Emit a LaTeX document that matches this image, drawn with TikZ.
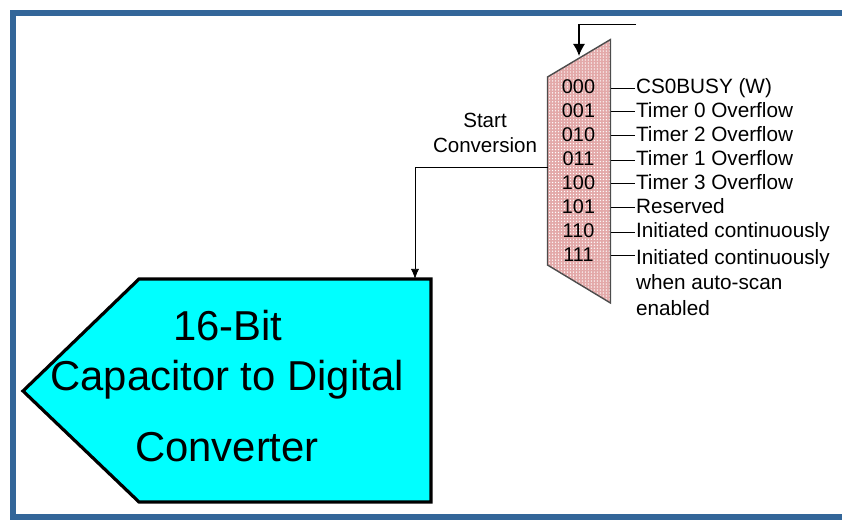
\documentclass[tikz,border=0pt]{standalone}
\usepackage{fontspec}
\setmainfont{Liberation Sans}
\usetikzlibrary{patterns.meta,arrows.meta}
\definecolor{framebl}{HTML}{336699}
\definecolor{muxpink}{HTML}{E3A9A9}
\definecolor{adccyan}{HTML}{00FFFF}
\begin{document}
\begin{tikzpicture}[x=.02cm,y=-.02cm,
    every node/.style={inner sep=.4pt},
    code/.style={font=\fontsize{11.3}{14}\selectfont},
    srclabel/.style={anchor=base west,font=\fontsize{11.8}{14.5}\selectfont,align=left},
    biglabel/.style={font=\fontsize{23.8}{28}\selectfont}]
          \useasboundingbox (0,0) rectangle (842,520);
          % outer frame, open on the right
          \draw [framebl,line width=6*.02cm] (842,13) -- (13,13) -- (13,517) -- (842,517);
          % converter block
          \coordinate (adcin) at (415,279);
          \draw [line width=3.2*.02cm,line join=miter,fill=adccyan] (139,279) -- (431,279) -- (431,502) -- (139,502) -- (23,391) -- cycle;
          \node [biglabel] (adc1) at (228,326) {16-Bit};
          \node [biglabel] (adc2) at (227,380) {Capacitor to Digital};
          \node [biglabel] (adc3) at (227,447) {Converter};
          % mux
          \draw [thick,black!70,preaction={fill=muxpink},pattern={Dots[distance=1.7pt,radius=.4pt]},pattern color=white] (547.5,77) -- (610.5,39.5) -- (610.5,303) -- (547.5,265) -- cycle;
          \coordinate (muxsel) at (579,56);
          \coordinate (muxout) at (547.5,167);
          \coordinate (selin) at (636,24.5);
          \node [code] (c0) at (578.5,87) {000};
          \node [code] (c1) at (578.5,111) {001};
          \node [code] (c2) at (578.5,135) {010};
          \node [code] (c3) at (578.5,159) {011};
          \node [code] (c4) at (578.5,183) {100};
          \node [code] (c5) at (578.5,207) {101};
          \node [code] (c6) at (578.5,231) {110};
          \node [code] (c7) at (578.5,255) {111};
          \coordinate (m0) at (610.5,88);
          \coordinate (m1) at (610.5,111);
          \coordinate (m2) at (610.5,135);
          \coordinate (m3) at (610.5,160);
          \coordinate (m4) at (610.5,183);
          \coordinate (m5) at (610.5,207);
          \coordinate (m6) at (610.5,232);
          \coordinate (m7) at (610.5,255);
          \node [srclabel] (l0) at (635,94) {CS0BUSY (W)};
          \node [srclabel] (l1) at (635,118) {Timer 0 Overflow};
          \node [srclabel] (l2) at (635,142) {Timer 2 Overflow};
          \node [srclabel] (l3) at (635,166) {Timer 1 Overflow};
          \node [srclabel] (l4) at (635,190) {Timer 3 Overflow};
          \node [srclabel] (l5) at (635,214) {Reserved};
          \node [srclabel] (l6) at (635,238) {Initiated continuously};
          \node [srclabel,anchor=north west] (l7) at (635,248) {Initiated continuously\\when auto-scan\\enabled};
          \draw (m0) -- (m0 -| l0.west);
          \draw (m1) -- (m1 -| l1.west);
          \draw (m2) -- (m2 -| l2.west);
          \draw (m3) -- (m3 -| l3.west);
          \draw (m4) -- (m4 -| l4.west);
          \draw (m5) -- (m5 -| l5.west);
          \draw (m6) -- (m6 -| l6.west);
          \draw (m7) -- (m7 -| l7.west);
          % select and start lines
          \draw [-{Latex[length=12*.02cm,width=12*.02cm]},thick] (selin) -| (muxsel);
          \node [code,font=\fontsize{11.7}{14}\selectfont] (st1) at (485,120) {Start};
          \node [code,font=\fontsize{11.7}{14}\selectfont] (st2) at (485,145) {Conversion};
          \draw [-{Latex[length=10*.02cm,width=8*.02cm]}] (muxout) -| (adcin);
        \end{tikzpicture}
\end{document}
